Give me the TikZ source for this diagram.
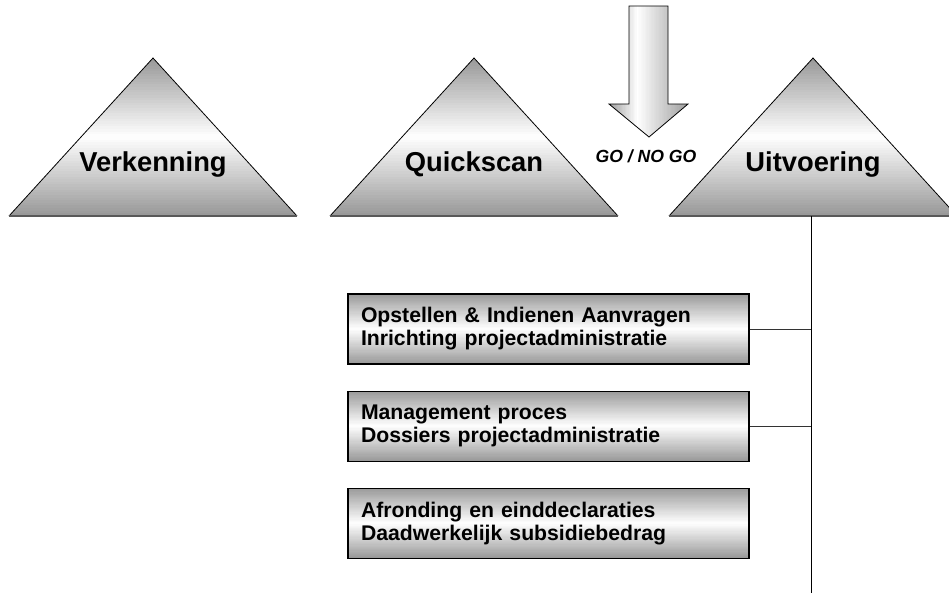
\documentclass[tikz,border=0pt]{standalone}
\usepackage{fontspec}
\setmainfont{Liberation Sans}
\usetikzlibrary{positioning,calc,backgrounds}

% gradient made of thin strips: top/bottom grey, white in the middle
\newcommand{\vgrad}[3]{%
  \foreach \i in {0,...,59} {
    \pgfmathsetmacro\pct{#3*abs(2*\i/59-1)}
    \fill[gray!\pct] let \p1=(#1), \p2=(#2) in
      (\x1,{\y1+(\y2-\y1)*\i/60}) rectangle (\x2,{\y1+(\y2-\y1)*(\i+1.2)/60});
  }}
% left/right grey, white a bit left of the middle
\newcommand{\hgrad}[3]{%
  \foreach \i in {0,...,59} {
    \pgfmathsetmacro\pct{\i<21 ? #3*(21-\i)/21 : #3*(\i-21)/38}
    \fill[gray!\pct] let \p1=(#1), \p2=(#2) in
      ({\x1+(\x2-\x1)*\i/60},\y1) rectangle ({\x1+(\x2-\x1)*(\i+1.2)/60},\y2);
  }}

\tikzset{
  phase/.style={draw=black, line width=0.6pt},
  phasebase/.style={draw=black!65, line width=1.4pt},
  phaselabel/.style={font=\fontsize{20.5}{24}\selectfont\bfseries, inner sep=0pt},
  golabel/.style={font=\fontsize{13.2}{16}\selectfont\bfseries\itshape, inner sep=0pt},
  gonogo/.style={draw=black, line width=0.6pt},
  taskbox/.style={draw=black, line width=0.8pt,
    minimum width=300.75pt, minimum height=52.5pt, text width=281.25pt, inner xsep=9.75pt,
    align=left, font=\fontsize{15.9}{17.3}\selectfont\bfseries},
  link/.style={draw=black!80, line width=0.7pt}
}

\begin{document}
\begin{tikzpicture}[x=0.75pt,y=-0.75pt]
\clip (0,0) rectangle (949,596);

\foreach \cx/\name/\lbl in {153/verk/Verkenning, 474/quick/Quickscan, 813/uit/Uitvoering} {
  \coordinate (\name-left) at (\cx-144,216);
  \coordinate (\name-top) at (\cx,58);
  \coordinate (\name-right) at (\cx+144,216);
  \begin{scope}
    \clip (\name-left) -- (\name-top) -- (\name-right) -- cycle;
    \vgrad{\name-left -| \name-left}{\name-top -| \name-right}{80}
  \end{scope}
  \draw[phase] (\name-left) -- (\name-top) -- (\name-right);
  \draw[phasebase] (\name-left) -- (\name-right);
  \node[phaselabel, anchor=base] (\name) at (\cx,171) {\lbl};
}

\coordinate (arrow-sw) at (609,137);
\coordinate (arrow-ne) at (688,6);
\begin{scope}
  \clip (629,6) -- (668,6) -- (668,104) -- (688,104) -- (649,137) -- (609,104) -- (629,104) -- cycle;
  \hgrad{arrow-sw}{arrow-ne}{75}
\end{scope}
\draw[gonogo] (629,6) -- (668,6) -- (668,104) -- (688,104) -- (649,137) -- (609,104) -- (629,104) -- cycle;
\node[golabel, anchor=base] (go) at (646,162) {GO / NO GO};

\node[taskbox] (box1) at (548.5,329) {Opstellen \& Indienen Aanvragen\\Inrichting projectadministratie};
\node[taskbox, below=19.5pt of box1] (box2) {Management proces\\Dossiers projectadministratie};
\node[taskbox, below=19.5pt of box2] (box3) {Afronding en einddeclaraties\\Daadwerkelijk subsidiebedrag};

\begin{scope}[on background layer]
  \fill[white] (0,0) rectangle (949,596);
  \foreach \b in {box1,box2,box3} {
    \begin{scope}
      \clip (\b.south west) rectangle (\b.north east);
      \vgrad{\b.north west}{\b.south east}{80}
    \end{scope}
  }
\end{scope}

\coordinate (spine-top) at (811,216);
\coordinate (spine-end) at (811,593);
\draw[link, draw=black] (spine-top) -- (spine-end);
\draw[link] (box1.east) -- (box1.east -| spine-top);
\draw[link] (box2.east) -- (box2.east -| spine-top);
\draw[link, draw=black] ($(box3.east)+(0,-9)$) -- ($(box3.east)+(0,-9)$ -| spine-top);
\end{tikzpicture}
\end{document}
